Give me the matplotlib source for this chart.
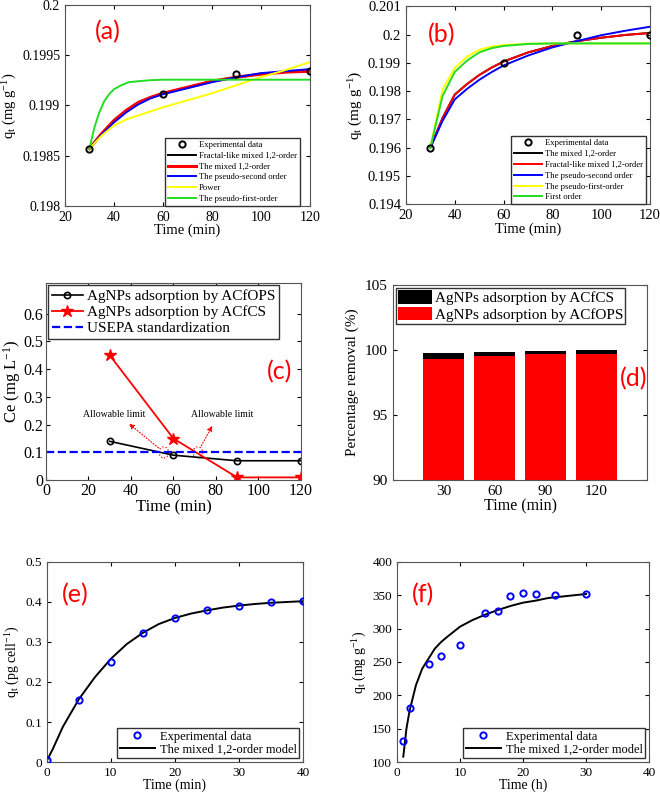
import matplotlib
matplotlib.use('Agg')
import matplotlib.pyplot as plt
from matplotlib.patches import Ellipse

plt.rcParams['font.family'] = ['Liberation Serif', 'DejaVu Serif']
plt.rcParams['mathtext.fontset'] = 'custom'
plt.rcParams['mathtext.rm'] = 'Liberation Serif'
plt.rcParams['mathtext.it'] = 'Liberation Serif:italic'
plt.rcParams['xtick.direction'] = 'in'
plt.rcParams['ytick.direction'] = 'in'
plt.rcParams['xtick.top'] = True
plt.rcParams['ytick.right'] = True
plt.rcParams['axes.edgecolor'] = '#555555'
plt.rcParams['axes.linewidth'] = 0.8

# ---- panel (a) ----
a_exp_t = [30, 60, 90, 120]
a_exp_q = [0.19857, 0.19911, 0.19931, 0.19934]
a_t = [30, 35, 40, 45, 50, 55, 60, 70, 80, 90, 100, 110, 120]
a_fractal = [0.19857, 0.19872, 0.19885, 0.19895, 0.19903, 0.19908, 0.19912, 0.19918, 0.19924,
             0.19928, 0.19931, 0.19933, 0.19934]
a_mixed = [0.19857, 0.19872, 0.19885, 0.19895, 0.19903, 0.19908, 0.19912, 0.19918, 0.19924,
           0.19928, 0.19931, 0.19933, 0.19934]
a_pso = [0.19857, 0.19871, 0.19883, 0.19893, 0.19901, 0.19907, 0.19911, 0.19917, 0.19923,
         0.19928, 0.19932, 0.19934, 0.19936]
a_power = [0.19857, 0.19870, 0.19880, 0.19886, 0.19890, 0.19894, 0.19898, 0.19905, 0.19912,
           0.19920, 0.19928, 0.19935, 0.19943]
a_pfo_t = [30, 32, 34, 36, 38, 40, 43, 46, 50, 55, 60, 120]
a_pfo = [0.19857, 0.19878, 0.19893, 0.19904, 0.19911, 0.19916, 0.19920, 0.19923, 0.19924,
         0.199250, 0.199255, 0.199255]

# ---- panel (b) ----
b_exp_t = [30, 60, 90, 120]
b_exp_q = [0.1960, 0.1990, 0.2000, 0.2000]
b_t = [30, 35, 40, 45, 50, 55, 60, 70, 80, 90, 100, 110, 120]
b_mixed = [0.1960, 0.19705, 0.19788, 0.19825, 0.19857, 0.19883, 0.19905, 0.19937, 0.19960,
           0.19977, 0.19989, 0.19999, 0.20006]
b_fractal = b_mixed
b_pso = [0.1960, 0.19695, 0.19771, 0.19808, 0.19840, 0.19867, 0.19891, 0.19926, 0.19955,
         0.19977, 0.19998, 0.20014, 0.20028]
b_pfo = [0.1960, 0.19805, 0.19882, 0.19922, 0.19946, 0.19958, 0.19963, 0.19968, 0.19969,
         0.19969, 0.19969, 0.19969, 0.19969]
b_first = [0.1960, 0.19783, 0.19868, 0.19908, 0.19937, 0.19952, 0.19960, 0.19967, 0.19969,
           0.19969, 0.19969, 0.19969, 0.19969]

# ---- panel (c) ----
c_t = [30, 60, 90, 120]
c_acfops = [0.14, 0.09, 0.07, 0.07]
c_acfcs = [0.45, 0.15, 0.01, 0.01]
c_limit = 0.1

# ---- panel (d) ----
d_labels = ['30', '60', '90', '120']
d_acfcs = [99.75, 99.85, 99.92, 99.97]
d_acfops = [99.31, 99.56, 99.64, 99.64]

# ---- panel (e) ----
e_exp_t = [0, 5, 10, 15, 20, 25, 30, 35, 40]
e_exp_q = [0.005, 0.155, 0.250, 0.322, 0.360, 0.379, 0.391, 0.400, 0.402]
e_t = [0, 1, 2.5, 5, 7.5, 10, 12.5, 15, 17.5, 20, 22.5, 25, 27.5, 30, 32.5, 35, 37.5, 40]
e_model = [0.003, 0.035, 0.088, 0.157, 0.212, 0.258, 0.295, 0.323, 0.345, 0.360, 0.371,
           0.379, 0.386, 0.391, 0.395, 0.398, 0.400, 0.402]

# ---- panel (f) ----
f_exp_t = [1, 2, 5, 7, 10, 14, 16, 18, 20, 22, 25, 30]
f_exp_q = [131, 181, 247, 259, 275, 324, 327, 349, 354, 352, 350, 352]
f_t = [1, 1.5, 2, 3, 4, 5, 6, 7, 8, 10, 12, 14, 16, 18, 20, 22, 24, 26, 28, 30]
f_model = [108, 150, 177, 215, 240, 255, 270, 280, 288, 303, 313, 321, 328, 334, 339, 342,
           346, 348, 350, 352]

fig = plt.figure(figsize=(6.6, 7.95), dpi=100)

tag_font = dict(family=['Lato', 'DejaVu Sans'], color='#ff0000', fontsize=18)
leg_small = dict(frameon=True, fancybox=False, edgecolor='#333333', framealpha=1,
                 borderpad=0.35, labelspacing=0.32, handlelength=3.2, handletextpad=0.4)

# (a)
ax = fig.add_axes([0.0985, 0.741, 0.371, 0.253])
ax.plot(a_exp_t, a_exp_q, 'o', mfc='none', mec='black', ms=4.5, mew=1.4, zorder=5,
        label='Experimental data')
ax.plot(a_t, a_fractal, color='black', lw=1.4, label='Fractal-like mixed 1,2-order')
ax.plot(a_t, a_mixed, color='red', lw=2.2, label='The mixed 1,2-order')
ax.plot(a_t, a_pso, color='blue', lw=1.4, label='The pseudo-second order')
ax.plot(a_t, a_power, color='yellow', lw=1.4, label='Power')
ax.plot(a_pfo_t, a_pfo, color='#22dd22', lw=1.4, label='The pseudo-first-order')
ax.set_xlim(20, 120)
ax.set_ylim(0.198, 0.2)
ax.set_yticks([0.198, 0.1985, 0.199, 0.1995, 0.2])
ax.set_yticklabels(['0.198', '0.1985', '0.199', '0.1995', '0.2'])
ax.tick_params(labelsize=10, length=3)
ax.set_xlabel('Time (min)', fontsize=10.5, labelpad=0)
ax.set_ylabel(r'q$_\mathregular{t}$ (mg g$^\mathregular{-1}$)', fontsize=10.5, labelpad=2)
ax.legend(loc='lower right', fontsize=6.2, bbox_to_anchor=(0.96, 0.0), borderaxespad=0, **leg_small)
ax.text(0.12, 0.83, '(a)', transform=ax.transAxes, **tag_font)

# (b)
ax = fig.add_axes([0.615, 0.743, 0.370, 0.249])
ax.plot(b_exp_t, b_exp_q, 'o', mfc='none', mec='black', ms=4.5, mew=1.4, zorder=5,
        label='Experimental data')
ax.plot(b_t, b_mixed, color='black', lw=1.4, label='The mixed 1,2-order')
ax.plot(b_t, b_fractal, color='red', lw=1.4, label='Fractal-like mixed 1,2-order')
ax.plot(b_t, b_pso, color='blue', lw=1.4, label='The pseudo-second order')
ax.plot(b_t, b_pfo, color='yellow', lw=1.4, label='The pseudo-first-order')
ax.plot(b_t, b_first, color='#22dd22', lw=1.4, label='First order')
ax.set_xlim(20, 120)
ax.set_ylim(0.194, 0.201)
ax.set_yticks([0.194, 0.195, 0.196, 0.197, 0.198, 0.199, 0.2, 0.201])
ax.set_yticklabels(['0.194', '0.195', '0.196', '0.197', '0.198', '0.199', '0.2', '0.201'])
ax.tick_params(labelsize=10.5, length=3)
ax.set_xlabel('Time (min)', fontsize=10.5, labelpad=0)
ax.set_ylabel(r'q$_\mathregular{t}$ (mg g$^\mathregular{-1}$)', fontsize=11, labelpad=2)
ax.legend(loc='lower right', fontsize=6.2, bbox_to_anchor=(0.985, 0.0), borderaxespad=0, **leg_small)
ax.text(0.09, 0.82, '(b)', transform=ax.transAxes, **tag_font)

# (c)
ax = fig.add_axes([0.0697, 0.396, 0.386, 0.248])
ax.plot(c_t, c_acfops, '-o', color='black', mfc='none', ms=4.5, mew=1.2, lw=1.2,
        label='AgNPs adsorption by ACfOPS')
ax.plot(c_t, c_acfcs, '-*', color='red', ms=9, lw=1.3, label='AgNPs adsorption by ACfCS')
ax.plot([0, 120], [c_limit, c_limit], '--', color='blue', lw=1.6, label='USEPA standardization')
ax.set_xlim(0, 120)
ax.set_ylim(0, 0.71)
ax.set_xticks([0, 20, 40, 60, 80, 100, 120])
ax.set_yticks([0, 0.1, 0.2, 0.3, 0.4, 0.5, 0.6])
ax.set_yticklabels(['0', '0.1', '0.2', '0.3', '0.4', '0.5', '0.6'])
ax.tick_params(labelsize=11.5, length=3, pad=2)
ax.set_xlabel('Time (min)', fontsize=12, labelpad=0)
ax.set_ylabel(r'Ce (mg L$^\mathregular{-1}$)', fontsize=12, labelpad=0)
ax.legend(loc='upper left', fontsize=11, borderaxespad=0.15, frameon=True, fancybox=False,
          edgecolor='#333333', framealpha=1, borderpad=0.25, labelspacing=0.15,
          handlelength=2.0, handletextpad=0.3)
for cx in (55.5, 71.5):
    ax.add_patch(Ellipse((cx, c_limit), 4.5, 0.04, fill=False, ec='red', ls=':', lw=0.9))
ax.annotate('', xy=(38, 0.21), xytext=(54, 0.11),
            arrowprops=dict(arrowstyle='-|>', color='red', ls=':', lw=0.8, mutation_scale=8))
ax.annotate('', xy=(79, 0.205), xytext=(72.5, 0.115),
            arrowprops=dict(arrowstyle='-|>', color='red', ls=':', lw=0.8, mutation_scale=8))
ax.text(32, 0.235, 'Allowable limit', fontsize=7, ha='center', va='center')
ax.text(83, 0.235, 'Allowable limit', fontsize=7, ha='center', va='center')
ax.text(110, 0.39, '(c)', ha='center', va='center', **tag_font)

# (d)
ax = fig.add_axes([0.595, 0.396, 0.386, 0.246])
pos = [1, 2, 3, 4]
ax.bar(pos, d_acfcs, width=0.8, color='black', label='AgNPs adsorption by ACfCS')
ax.bar(pos, d_acfops, width=0.8, color='#ff0000', label='AgNPs adsorption by ACfOPS')
ax.set_xlim(0, 5)
ax.set_ylim(90, 105)
ax.set_xticks(pos)
ax.set_xticklabels(d_labels)
ax.set_yticks([90, 95, 100, 105])
ax.tick_params(labelsize=11, length=3)
ax.tick_params(axis='x', top=False, bottom=False)
ax.set_xlabel('Time (min)', fontsize=11.5, labelpad=0)
ax.set_ylabel('Percentage removal (%)', fontsize=11, labelpad=4)
ax.legend(loc='upper left', fontsize=11, borderaxespad=0.2, frameon=True, fancybox=False,
          edgecolor='#333333', framealpha=1, borderpad=0.15, labelspacing=0.1,
          handlelength=2.2, handleheight=1.0, handletextpad=0.2)
ax.text(4.72, 97.8, '(d)', ha='center', va='center', **tag_font)

# (e)
ax = fig.add_axes([0.071, 0.0415, 0.388, 0.2516])
ax.plot(e_exp_t, e_exp_q, 'o', mfc='none', mec='blue', ms=4.5, mew=1.4, zorder=5,
        label='Experimental data')
ax.plot(e_t, e_model, color='black', lw=1.4, label='The mixed 1,2-order model')
ax.set_xlim(0, 40)
ax.set_ylim(0, 0.5)
ax.set_yticks([0, 0.1, 0.2, 0.3, 0.4, 0.5])
ax.set_yticklabels(['0', '0.1', '0.2', '0.3', '0.4', '0.5'])
ax.tick_params(labelsize=9.5, length=3)
ax.set_xlabel('Time (min)', fontsize=10, labelpad=0)
ax.set_ylabel(r'q$_\mathregular{t}$ (pg cell$^\mathregular{-1}$)', fontsize=10, labelpad=2)
ax.legend(loc='lower right', fontsize=9, borderaxespad=0.3, frameon=True, fancybox=False,
          edgecolor='#333333', framealpha=1, borderpad=0.2, labelspacing=0.1,
          handlelength=2.8, handletextpad=0.4)
ax.text(0.06, 0.8, '(e)', transform=ax.transAxes, **tag_font)

# (f)
ax = fig.add_axes([0.6015, 0.0415, 0.382, 0.2516])
ax.plot(f_exp_t, f_exp_q, 'o', mfc='none', mec='blue', ms=4.5, mew=1.4, zorder=5,
        label='Experimental data')
ax.plot(f_t, f_model, color='black', lw=1.4, label='The mixed 1,2-order model')
ax.set_xlim(0, 40)
ax.set_ylim(100, 400)
ax.set_yticks([100, 150, 200, 250, 300, 350, 400])
ax.tick_params(labelsize=9.5, length=3)
ax.set_xlabel('Time (h)', fontsize=10, labelpad=0)
ax.set_ylabel(r'q$_\mathregular{t}$ (mg g$^\mathregular{-1}$)', fontsize=10, labelpad=2)
ax.legend(loc='lower right', fontsize=9, borderaxespad=0.3, frameon=True, fancybox=False,
          edgecolor='#333333', framealpha=1, borderpad=0.2, labelspacing=0.1,
          handlelength=2.8, handletextpad=0.4)
ax.text(0.06, 0.8, '(f)', transform=ax.transAxes, **tag_font)

fig.savefig('out.png', dpi=100)
